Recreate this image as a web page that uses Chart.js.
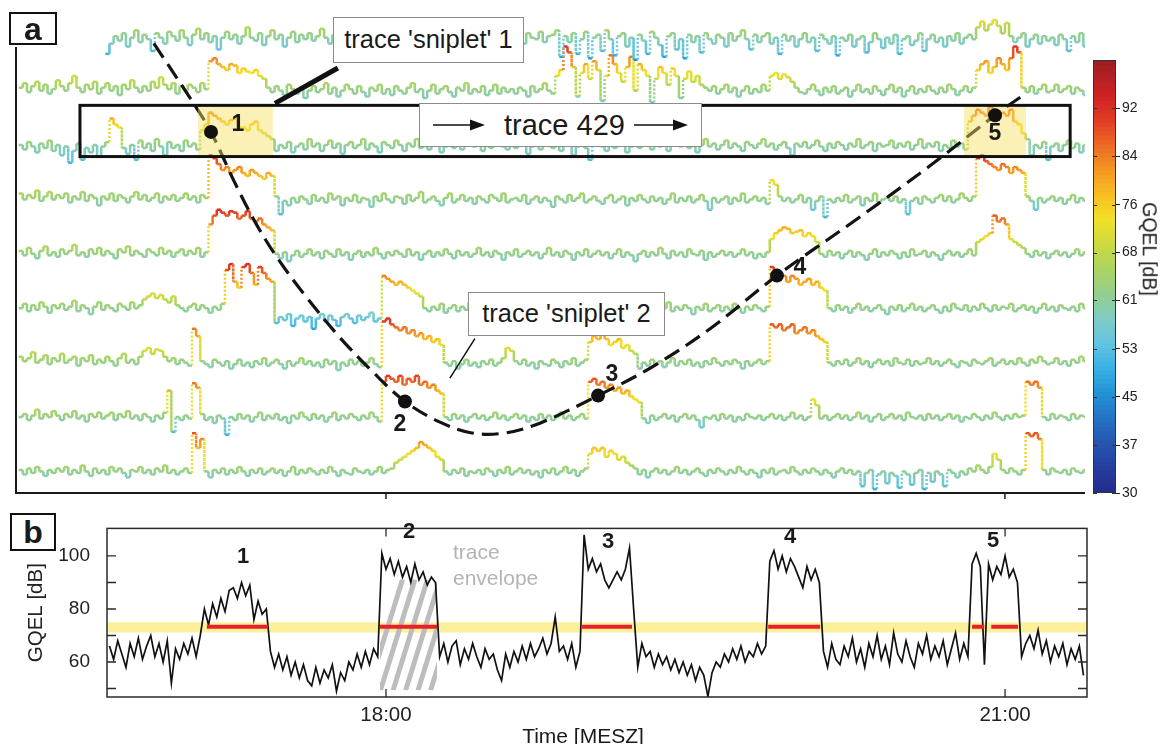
<!DOCTYPE html>
<html><head><meta charset="utf-8">
<script src="https://cdn.jsdelivr.net/npm/chart.js@4/dist/chart.umd.min.js"></script>
<style>
html,body{margin:0;padding:0;background:#fff;overflow:hidden;width:1161px;height:744px;}
body{position:relative;font-family:"Liberation Sans",Arial,sans-serif;color:#1a1a1a;}
canvas{position:absolute;}
.box{position:absolute;background:#fff;border:1px solid #8c8c8c;box-sizing:border-box;display:flex;align-items:center;justify-content:center;font-size:25.5px;color:#1a1a1a;line-height:1;white-space:nowrap;}
.panel{position:absolute;border:2px solid #111;background:#fff;box-sizing:border-box;font-weight:bold;font-size:32px;display:flex;align-items:center;justify-content:center;line-height:1;}
.num{position:absolute;font-weight:bold;transform:translate(-50%,-50%);line-height:1;white-space:nowrap;}
.txt{position:absolute;line-height:1;white-space:nowrap;}
</style></head><body>
<canvas id="ca" width="1161" height="500" style="left:0px;top:0px"></canvas>
<canvas id="cb" width="1161" height="260" style="left:0px;top:500px"></canvas>
<canvas id="cc" width="101" height="470" style="left:1060px;top:40px"></canvas>

<div class="panel" style="left:9px;top:12px;width:48px;height:33px;">a</div>
<div class="panel" style="left:10px;top:513px;width:46px;height:38px;">b</div>

<div class="box" style="left:333px;top:17px;width:191px;height:46px;">trace 'sniplet' 1</div>
<div class="box" style="left:468px;top:292px;width:197px;height:44px;">trace 'sniplet' 2</div>
<div class="box" style="left:419px;top:103px;width:283px;height:44px;font-size:29px;">
  <svg width="54" height="14" style="margin-right:18px"><line x1="1" y1="7" x2="40" y2="7" stroke="#111" stroke-width="1.3"/><polygon points="38,1.5 53,7 38,12.5" fill="#111"/></svg><span>trace 429</span><svg width="56" height="14" style="margin-left:8px"><line x1="1" y1="7" x2="42" y2="7" stroke="#111" stroke-width="1.3"/><polygon points="40,1.5 55,7 40,12.5" fill="#111"/></svg>
</div>

<div class="num" style="left:238px;top:123px;font-size:23px;">1</div>
<div class="num" style="left:400px;top:423px;font-size:23px;">2</div>
<div class="num" style="left:612px;top:373px;font-size:23px;">3</div>
<div class="num" style="left:800px;top:266px;font-size:23px;">4</div>
<div class="num" style="left:995px;top:132px;font-size:23px;">5</div>

<div class="num" style="left:243px;top:556px;font-size:22px;">1</div>
<div class="num" style="left:409px;top:531px;font-size:22px;">2</div>
<div class="num" style="left:608px;top:541px;font-size:22px;">3</div>
<div class="num" style="left:790px;top:536px;font-size:22px;">4</div>
<div class="num" style="left:993px;top:540px;font-size:22px;">5</div>

<div class="txt" style="left:453px;top:541px;font-size:21px;color:#b4b4b4;">trace</div>
<div class="txt" style="left:453px;top:567px;font-size:21px;color:#b4b4b4;">envelope</div>

<div class="txt" style="left:1149px;top:249px;font-size:19.5px;transform:translate(-50%,-50%) rotate(90deg);">GQEL [dB]</div>
<div class="txt" style="left:583px;top:735px;font-size:21px;transform:translate(-50%,-50%);">Time [MESZ]</div>

<script>
Chart.defaults.font.family = '"Liberation Sans", Arial, sans-serif';
Chart.defaults.color = '#1e1e1e';

// ---------------- data ----------------
const timeTicks = [18, 21];
const timeTickLabels = ['18:00', '21:00'];

// panel a: traces (GQEL in dB), one value every 0.02 h starting 16.22 h
const traceStart = 16.22, traceStep = 0.02;
const trace1 = [null,null,null,null,null,null,null,null,null,null, null,null,null,null,null,null,null,null,null,null,
null,50,57,62,59,64,55,61,66,58, 63,60,52,64,61,57,65,62,59,66, 61,56,63,67,60,64,58,62,53,61,
65,60,63,57,62,68,61,59,64,56, 62,66,60,63,55,61,65,58,63,60, 64,59,62,67,61,57,63,60,66,62,
58,63,55,61,64,60,66,59,62,54, 61,65,60,63,58,62,67,61,56,63, 60,64,62,57,65,61,59,63,66,60,
62,55,61,64,60,66,58,63,61,65, 59,62,57,64,61,60,65,58,62,63, 66,48,62,58,64,50,60,65,47,61,
63,52,66,60,49,62,64,55,61,46, 63,59,50,65,61,56,48,62,64,53, 60,47,63,58,62,51,64,60,57,63,
61,55,64,59,62,66,60,53,63,58, 62,64,57,61,50,63,59,62,55,60, 64,58,61,52,63,60,57,62,49,61,
59,63,55,60,62,51,58,64,60,54, 61,57,63,50,60,62,56,59,64,52, 60,63,58,61,55,62,59,64,57,61,
63,60,68,72,66,70,73,69,64,71, 62,58,61,64,55,60,63,57,62,59, 61,56,63,60,52,62,58,64,55,60];
const trace2 = [64,67,61,65,68,62,66,60,63,69, 65,62,67,72,64,61,66,63,68,60, 64,67,62,65,59,66,63,69,64,61,
65,62,68,64,71,66,63,67,60,65, 62,66,64,61,67,63,82,84,80,78, 76,80,79,74,77,75,74,76,72,70,
64,61,65,62,59,66,63,60,64,57, 62,65,61,63,67,60,64,58,62,66, 63,60,65,61,58,64,62,66,60,63,
59,65,62,60,64,67,61,63,57,62, 66,60,63,65,61,58,64,62,67,60, 63,61,65,59,62,66,60,64,61,63,
60,64,62,58,65,61,63,67,62,60, 72,76,92,88,78,58,74,80,70,82, 76,55,72,86,80,74,68,78,85,62,
80,76,72,54,70,78,74,66,77,72, 57,70,75,68,72,66,64,62,65,60, 63,66,61,64,58,62,65,60,63,61,
66,62,72,74,70,73,71,68,64,61, 60,63,66,62,59,64,61,65,60,62, 64,58,62,66,61,63,60,65,62,59,
63,66,61,64,58,62,65,60,63,61, 65,62,60,64,61,66,63,59,62,65, 61,64,76,80,82,74,78,84,80,76,
84,92,88,64,61,65,60,63,66,61, 62,66,61,63,65,60,64,62,59,63];
const trace3 = [62,59,64,61,57,63,60,65,58,62, 55,61,50,58,63,52,60,57,62,54, 61,64,80,76,74,60,56,62,52,65,
60,63,58,66,61,55,64,60,62,58, 65,61,63,59,72,76,84,82,80,78, 76,79,80,74,74,72,76,78,72,70,
68,66,58,62,60,64,57,61,63,59, 66,61,63,58,62,65,60,63,56,62, 64,60,62,66,59,63,61,57,64,62,
60,65,62,58,63,61,66,60,63,59, 62,64,57,61,65,60,63,59,62,66, 61,63,58,64,60,62,65,61,59,63,
60,64,62,56,61,63,59,65,62,60, 63,58,62,64,55,61,63,60,52,62, 65,61,58,63,60,64,62,57,61,63,
60,66,62,59,64,61,63,58,62,65, 61,63,60,64,57,62,66,61,63,59, 62,65,60,63,61,58,64,62,60,63,
66,61,63,59,62,64,60,55,63,61, 64,60,62,65,61,58,63,60,64,62, 59,63,61,66,60,62,64,58,63,61,
62,65,60,63,61,64,59,62,66,60, 63,61,64,58,62,60,65,61,63,59, 78,82,86,84,82,88,86,80,84,82,
86,78,76,70,66,55,62,60,64,52, 61,63,58,62,65,60,63,57,62,60];
const trace4 = [66,62,65,63,68,61,64,67,62,65, 63,66,60,64,62,67,61,65,63,58, 64,62,66,61,65,63,60,64,67,62,
65,61,63,66,60,64,62,65,61,63, 66,62,64,60,65,63,92,90,86,82, 84,80,82,84,80,78,82,80,78,76,
80,78,64,52,61,58,63,60,64,62, 59,65,61,63,60,66,62,64,58,63, 61,65,60,63,62,57,64,61,66,62,
60,64,63,59,65,61,63,67,60,62, 64,61,58,63,66,60,62,65,61,63, 59,64,62,60,65,63,61,66,60,62,
63,61,65,59,62,64,60,63,61,57, 64,62,60,65,61,63,66,60,62,64, 61,59,63,65,60,62,64,58,63,61,
65,62,60,64,61,63,59,62,66,60, 63,61,64,60,62,65,61,55,63,60, 62,64,59,63,61,66,60,62,64,61,
63,59,75,72,64,61,63,60,62,65, 60,63,55,61,64,50,62,60,63,61, 65,60,62,64,58,63,61,66,60,62,
63,61,64,60,62,52,61,63,59,64, 62,60,63,65,61,64,60,62,66,63, 61,64,90,92,88,86,84,82,86,84,
80,84,82,80,64,61,55,63,60,62, 64,61,63,59,62,65,60,63,61,62];
const trace5 = [64,61,66,62,59,64,67,61,63,60, 65,62,64,68,61,63,60,65,62,66, 61,64,62,59,65,63,67,61,64,62,
60,65,63,61,66,62,64,60,63,65, 61,64,62,66,60,63,82,88,92,90, 88,91,90,86,88,91,86,84,86,82,
80,78,62,59,63,57,61,64,60,62, 65,61,63,59,64,62,60,65,61,63, 58,62,64,60,63,61,66,62,59,63,
61,64,62,60,65,61,63,58,62,64, 60,63,61,65,62,59,64,61,63,60, 62,66,61,63,60,64,62,58,63,61,
65,60,62,64,61,63,59,62,66,61, 63,60,64,62,58,63,61,65,60,62, 64,61,63,59,62,65,60,63,61,57,
62,64,60,63,61,66,62,59,64,61, 63,60,65,62,61,64,58,63,60,62, 64,61,63,60,62,65,61,63,59,62,
60,63,72,76,78,80,79,76,77,78, 74,76,74,70,62,60,64,61,63,59, 62,64,60,63,61,58,62,65,60,63,
61,64,62,59,63,60,65,61,62,64, 60,63,61,58,62,64,61,63,60,62, 65,61,70,72,74,76,88,84,86,82,
72,70,68,66,62,60,64,61,63,59, 62,64,61,63,60,62,65,61,63,60];
const trace6 = [62,65,60,64,61,66,63,59,64,62, 65,61,63,67,60,64,62,58,63,66, 61,64,62,60,65,63,61,66,62,64,
68,70,72,69,71,68,66,70,64,62, 60,63,65,61,64,62,59,63,61,65, 88,92,80,76,90,92,86,78,90,86,
82,80,52,56,54,58,50,55,57,53, 56,48,55,58,53,57,54,50,56,58, 55,52,57,54,56,59,53,55,84,82,
80,78,80,78,76,74,72,70,62,60, 63,61,65,59,62,64,60,63,61,66, 62,60,64,61,63,58,62,65,60,63,
61,64,62,59,63,66,60,62,64,61, 63,60,65,62,58,63,61,64,60,62, 65,61,63,60,62,64,59,63,61,65,
62,60,64,61,63,59,62,66,60,63, 61,64,62,58,63,61,65,60,62,64, 60,63,61,65,62,59,63,61,64,62,
60,63,90,88,86,84,80,84,82,78, 80,82,78,80,76,74,62,60,64,61, 63,59,62,65,61,63,60,62,64,61,
58,63,61,64,60,62,65,61,63,60, 62,64,61,59,63,60,65,62,61,64, 60,63,61,65,62,60,64,61,63,62,
65,60,62,64,61,63,59,62,65,61, 63,60,64,62,61,63,60,65,62,61];
const trace7 = [66,63,65,69,62,64,67,61,65,63, 68,62,64,66,60,65,63,67,61,64, 62,66,63,60,65,68,62,64,61,66,
70,72,68,71,70,66,63,65,61,64, 62,60,85,80,63,61,59,64,62,60, 63,58,61,64,60,62,59,63,61,65,
60,62,64,61,58,63,60,62,65,61, 63,60,62,59,64,61,63,57,62,60, 64,61,63,60,62,65,61,59,90,92,
88,86,84,86,82,84,80,82,78,80, 76,78,74,62,60,63,58,61,64,60, 62,59,63,61,64,60,62,65,72,70,
63,61,64,60,62,58,63,61,60,64, 62,59,63,61,65,60,62,64,76,80, 78,82,78,74,76,78,72,74,70,68,
58,62,60,64,61,63,59,62,65,60, 63,61,64,60,62,59,63,61,65,62, 60,63,61,64,62,58,63,60,62,64,
61,63,88,86,88,84,86,88,82,84, 86,82,84,80,78,76,62,60,63,61, 64,60,62,65,61,63,59,62,64,61,
63,60,65,62,61,64,60,63,61,62, 65,61,63,60,62,64,61,59,63,62, 60,64,62,61,63,65,60,62,64,61,
63,61,65,62,60,64,62,66,63,61, 62,65,61,63,60,64,62,66,63,61];
const trace8 = [62,64,60,63,67,61,64,62,66,63, 60,64,62,66,61,63,59,64,62,65, 61,63,65,60,64,62,66,61,63,60,
64,62,59,63,61,65,80,52,62,60, 63,61,85,82,64,60,62,58,63,61, 50,62,60,64,61,63,59,62,65,60,
63,61,64,60,62,58,63,61,65,62, 60,64,61,63,59,62,65,60,63,61, 64,62,60,63,61,65,62,59,86,90,
88,86,90,84,88,86,90,84,86,82, 84,80,78,62,60,64,61,63,59,62, 64,61,63,60,62,65,61,63,60,62,
64,61,63,59,62,60,64,61,63,60, 62,65,61,63,60,62,64,61,86,88, 84,86,82,84,80,82,78,80,76,74,
72,61,58,63,60,62,64,61,63,59, 62,64,61,63,60,55,62,61,63,60, 64,61,63,59,62,60,64,62,61,63,
60,62,64,61,63,60,62,65,61,63, 60,62,74,70,61,63,60,62,64,61, 63,60,62,65,61,63,59,62,64,60,
62,64,61,63,60,65,62,61,63,60, 64,61,63,60,62,64,61,63,59,62, 61,64,62,60,63,61,65,62,60,63,
61,64,62,63,86,84,86,82,62,60, 64,61,63,62,60,64,61,63,62,60];
const trace9 = [63,60,64,61,65,62,59,63,61,64, 62,65,60,63,61,66,62,59,64,61, 63,60,65,62,64,61,58,63,62,65,
61,63,60,64,62,66,61,63,60,62, 64,61,88,78,84,62,58,63,61,64, 60,63,61,65,62,59,63,61,64,60,
62,64,61,63,59,62,65,60,63,61, 64,62,60,63,61,65,62,59,63,61, 60,64,62,61,63,60,62,65,61,63,
64,68,70,72,74,76,78,82,80,78, 76,72,70,62,60,63,61,64,59,62, 61,63,60,64,62,59,63,61,65,60,
62,64,61,63,60,62,58,63,61,64, 60,62,65,61,63,59,62,64,74,78, 76,78,72,76,74,70,72,68,66,64,
60,63,58,62,64,61,63,60,62,65, 61,63,60,62,64,61,59,63,61,64, 62,60,63,61,65,62,60,63,61,58,
63,61,64,60,62,63,61,65,62,60, 63,61,64,62,60,63,61,58,62,64, 61,63,60,62,52,61,63,50,60,62,
54,61,59,51,62,60,53,61,63,50, 61,55,62,60,52,63,61,58,62,60, 64,62,66,63,61,65,74,70,63,61,
64,62,60,63,88,86,88,84,63,60, 64,62,61,63,60,64,62,61,63,62];

// path of the moving source across the traces (time in h, trace row)
const curveTime = [16.875,17.074,17.152,17.273,17.375,17.477,17.607,17.777,17.932,18.092,18.262,18.417,18.577,18.746,19.028,19.289,19.571,19.895,20.273,20.627,20.952,21.093];
const curveRow  = [1.132,2.271,2.759,3.736,4.477,5.092,5.761,6.539,7.154,7.714,8.094,8.293,8.293,8.112,7.606,7.081,6.376,5.400,4.387,3.410,2.452,2.072];
const eventTime = [17.152, 18.092, 19.028, 19.895, 20.952];
const eventRow  = [2.759, 7.714, 7.606, 5.400, 2.452];

// panel b: level of trace 429, one value every 0.02 h starting 16.66 h
const levelStart = 16.66, levelStep = 0.02;
const levelB = [66,61,68,63,58,67,62,69,61,66, 70,62,67,60,68,52,65,61,67,63, 69,62,70,
80,74,82,77,84,79,87, 88,84,90,85,89,76,83,78,80,
64,58,63,57,62,55,60,54,59,53,51, 58,52,57,54,59,49,56,53,60, 57,63,58,64,59,65,62,
101,95,99,93,98,92,96,90,97,91,94,89,92,90,
62,67,60,66,68,59,65,61,67,62, 58,65,61,63,57,53,63,58,64,60, 66,61,67,62,65,69,63,67,77,64,
66,61,67,58,64,
108,95,99,94,97,91,88,91,94,91,95,103, 80, 58,
67,62,64,58,63,59,62,57,61,56,60, 55,59,53,58,55,47,56,60,
58,63,60,65,61,66,60,64,62,67,63,66,
98,102,95,100,94,99,96,92,88,96,91,95,90,
64,58,67,61,59,66,62,69,60,65,58,67,62,70,61,66,59,71,63,60,68,62,58,67,63,70,61,66,62,68,59,65,71,61,67,62,
97,101,96,59,97,91,96,93,100,92,95,90,62,
67,70,65,72,63,68,60,66,62,67,59,65,61,66,55];
const sniStart = [17.132, 17.971, 18.950, 19.852, 20.840, 20.933];
const sniEnd   = [17.428, 18.247, 19.192, 20.104, 20.899, 21.063];
const yTicksB = [50, 60, 70, 80, 90, 100];
const yTickLabelsB = ['', '60', '', '80', '', '100'];

// colour bar
const cbMin = 30, cbMax = 99.7;
const cbTicks = [30, 37.7, 45.5, 53.2, 61, 68.7, 76.4, 84.2, 91.9];
const cbTickLabels = ['30','37','45','53','61','68','76','84','92'];

// ---------------- helpers / layout constants ----------------
const cmapStops = [
 [30,[37,44,140]],[34,[38,62,160]],[38,[38,86,176]],[42,[36,116,196]],[46,[34,148,214]],
 [50,[56,178,228]],[54,[100,196,226]],[58,[128,204,196]],[62,[148,206,140]],[66,[172,212,96]],
 [70,[206,219,62]],[74,[242,224,40]],[78,[248,190,32]],[82,[243,150,34]],[86,[236,104,36]],
 [90,[226,58,38]],[94,[204,34,38]],[100,[152,28,34]]];
function cmap(v){
  if (v <= cmapStops[0][0]) return 'rgb(' + cmapStops[0][1].join(',') + ')';
  for (let k = 1; k < cmapStops.length; k++){
    if (v <= cmapStops[k][0]){
      const a = cmapStops[k-1], b = cmapStops[k], f = (v - a[0]) / (b[0] - a[0]);
      const c = a[1].map((q, j) => Math.round(q + (b[1][j] - q) * f));
      return 'rgb(' + c.join(',') + ')';
    }
  }
  return 'rgb(' + cmapStops[cmapStops.length-1][1].join(',') + ')';
}
const dBPerRow = 37, refLevel = 62;
const box429 = {t0: 16.517, t1: 21.316, r0: 2.271, r1: 3.212};
const highlightSpans = [[17.089, 17.452], [20.802, 21.102]];
const callout1 = [[17.462, 2.235], [17.767, 1.584]];
const callout2 = [[18.310, 7.283], [18.431, 6.560]];

// ---------------- panel a ----------------
const traces = [trace1, trace2, trace3, trace4, trace5, trace6, trace7, trace8, trace9];
const traceDatasets = traces.map((vals, k) => {
  const row = k + 1, pts = [], vv = [];
  vals.forEach((v, i) => {
    const xa = traceStart + i * traceStep;
    if (v === null) { pts.push({x: xa, y: null}); vv.push(null); return; }
    const y = row - (v - refLevel) / dBPerRow;
    pts.push({x: xa, y: y}, {x: xa + traceStep, y: y});
    vv.push(v, v);
  });
  return {
    data: pts, borderWidth: 2.5, pointRadius: 0, order: 2, spanGaps: false,
    borderColor: '#90cc88', borderJoinStyle: 'miter', borderCapStyle: 'butt', tension: 0,
    clip: {left: 0, right: 0, top: 60, bottom: 20},
    segment: {
      borderColor: c => { const a = vv[c.p0DataIndex], b = vv[c.p1DataIndex]; return cmap((a + b) / 2); },
      borderDash: c => Math.abs(vv[c.p0DataIndex] - vv[c.p1DataIndex]) >= 10 ? [2, 2] : undefined
    }
  };
});
const curveIndex = traceDatasets.length;
const curveDs = {
  data: curveTime.map((t, i) => ({x: t, y: curveRow[i]})),
  borderColor: '#141414', borderWidth: 3.2, borderDash: [17, 8], pointRadius: 0,
  tension: 0.35, order: 1, clip: false
};
const dotDs = {
  data: eventTime.map((t, i) => ({x: t, y: eventRow[i]})),
  showLine: false, pointRadius: 7, pointBackgroundColor: '#111', pointBorderWidth: 0, order: 0, clip: false
};

const annotA = {
  id: 'annotA',
  afterDatasetDraw(chart, args) {
    if (args.index !== curveIndex) return;
    const {ctx, scales: {x, y}} = chart;
    ctx.save();
    const yt = y.getPixelForValue(box429.r0), yb = y.getPixelForValue(box429.r1);
    ctx.fillStyle = 'rgba(247,222,90,0.45)';
    highlightSpans.forEach(([a, b]) => {
      const x0 = x.getPixelForValue(a), x1 = x.getPixelForValue(b);
      ctx.fillRect(x0, yt, x1 - x0, yb - yt);
    });
    ctx.strokeStyle = '#111'; ctx.lineWidth = 3;
    const bx0 = x.getPixelForValue(box429.t0), bx1 = x.getPixelForValue(box429.t1);
    ctx.strokeRect(bx0, yt, bx1 - bx0, yb - yt);
    ctx.lineWidth = 5; ctx.lineCap = 'butt';
    ctx.beginPath();
    ctx.moveTo(x.getPixelForValue(callout1[0][0]), y.getPixelForValue(callout1[0][1]));
    ctx.lineTo(x.getPixelForValue(callout1[1][0]), y.getPixelForValue(callout1[1][1]));
    ctx.stroke();
    ctx.lineWidth = 1.5;
    ctx.beginPath();
    ctx.moveTo(x.getPixelForValue(callout2[0][0]), y.getPixelForValue(callout2[0][1]));
    ctx.lineTo(x.getPixelForValue(callout2[1][0]), y.getPixelForValue(callout2[1][1]));
    ctx.stroke();
    ctx.restore();
  },
  afterDraw(chart) {
    const {ctx, chartArea: ca, scales: {x}} = chart;
    ctx.save();
    ctx.strokeStyle = '#1a1a1a'; ctx.lineWidth = 2;
    ctx.beginPath();
    ctx.moveTo(ca.left, 47); ctx.lineTo(ca.left, ca.bottom); ctx.lineTo(ca.right, ca.bottom);
    ctx.stroke();
    ctx.lineWidth = 1.5;
    ctx.beginPath();
    timeTicks.forEach(t => { const px = x.getPixelForValue(t); ctx.moveTo(px, ca.bottom); ctx.lineTo(px, ca.bottom + 6); });
    ctx.stroke();
    ctx.restore();
  }
};

new Chart(document.getElementById('ca'), {
  type: 'line',
  data: {datasets: [...traceDatasets, curveDs, dotDs]},
  options: {
    responsive: false, animation: false, devicePixelRatio: 1, events: [],
    layout: {padding: {left: 16, right: 76, top: 0, bottom: 6}},
    plugins: {legend: {display: false}, tooltip: {enabled: false}},
    scales: {
      x: {type: 'linear', min: 16.207, max: 21.388, display: false},
      y: {type: 'linear', min: 0.463, max: 9.396, reverse: true, display: false}
    }
  },
  plugins: [annotA]
});

// ---------------- panel b ----------------
const xMinB = 16.648, xMaxB = 21.397;
const bandLow = 71.1, bandHigh = 75.0, sniLevel = 73.3;
const hatchRect = {t0: 17.971, t1: 18.247, lo: 49.3, hi: 91.1};
const hatchStarts = [17.913, 17.973, 18.034, 18.095, 18.155, 18.216];
const hatchLean = 0.167;

const redPts = [];
sniStart.forEach((s, i) => { redPts.push({x: s, y: sniLevel}, {x: sniEnd[i], y: sniLevel}, {x: sniEnd[i] + 0.001, y: null}); });

const redDs = {data: redPts, borderColor: '#e8202a', borderWidth: 4, pointRadius: 0, order: 0, spanGaps: false, borderCapStyle: 'butt'};
const lineDs = {data: levelB.map((v, i) => ({x: levelStart + i * levelStep, y: v})), borderColor: '#111', borderWidth: 1.7, pointRadius: 0, order: 1, tension: 0, borderJoinStyle: 'miter'};
const bandDs = {data: [{x: xMinB, y: bandHigh}, {x: xMaxB, y: bandHigh}], fill: {value: bandLow}, backgroundColor: '#fcf09b', borderColor: 'rgba(0,0,0,0)', borderWidth: 0, pointRadius: 0, order: 2};

const frameB = {
  id: 'frameB',
  beforeDatasetDraw(chart, args) {
    if (args.index !== 1) return;
    const {ctx, scales: {x, y}} = chart;
    ctx.save();
    const L = x.getPixelForValue(hatchRect.t0), R = x.getPixelForValue(hatchRect.t1);
    const T = y.getPixelForValue(hatchRect.hi), B = y.getPixelForValue(hatchRect.lo);
    ctx.beginPath(); ctx.rect(L, T, R - L, B - T); ctx.clip();
    ctx.strokeStyle = '#bdbdbd'; ctx.lineWidth = 5; ctx.lineCap = 'butt';
    hatchStarts.forEach(t => {
      ctx.beginPath();
      ctx.moveTo(x.getPixelForValue(t), B);
      ctx.lineTo(x.getPixelForValue(t + hatchLean), T);
      ctx.stroke();
    });
    ctx.restore();
  },
  afterDraw(chart) {
    const {ctx, chartArea: ca, scales: {x, y}} = chart;
    ctx.save();
    ctx.strokeStyle = '#2a2a2a'; ctx.lineWidth = 1.5;
    ctx.strokeRect(ca.left, ca.top, ca.right - ca.left, ca.bottom - ca.top);
    ctx.lineWidth = 1.3;
    ctx.beginPath();
    yTicksB.forEach(v => {
      const py = y.getPixelForValue(v);
      ctx.moveTo(ca.left, py); ctx.lineTo(ca.left + 9, py);
      ctx.moveTo(ca.right, py); ctx.lineTo(ca.right - 9, py);
    });
    timeTicks.forEach(t => {
      const px = x.getPixelForValue(t);
      ctx.moveTo(px, ca.bottom); ctx.lineTo(px, ca.bottom - 8);
      ctx.moveTo(px, ca.top); ctx.lineTo(px, ca.top + 8);
    });
    ctx.stroke();
    ctx.restore();
  }
};

new Chart(document.getElementById('cb'), {
  type: 'line',
  data: {datasets: [redDs, lineDs, bandDs]},
  options: {
    responsive: false, animation: false, devicePixelRatio: 1, events: [],
    layout: {padding: {left: 0, right: 74, top: 19, bottom: 0}},
    plugins: {legend: {display: false}, tooltip: {enabled: false}},
    scales: {
      x: {
        type: 'linear', min: xMinB, max: xMaxB,
        afterBuildTicks: s => { s.ticks = timeTicks.map(v => ({value: v})); },
        ticks: {callback: (v, i) => timeTickLabels[i], font: {size: 20.5}, color: '#222', padding: 6, maxRotation: 0, autoSkip: false},
        grid: {display: false, drawTicks: false}, border: {display: false},
        afterFit: s => { s.height = 63; }
      },
      y: {
        type: 'linear', min: 46.8, max: 110.4,
        afterBuildTicks: s => { s.ticks = yTicksB.map(v => ({value: v})); },
        ticks: {callback: (v, i) => yTickLabelsB[i], font: {size: 19}, color: '#222', padding: 17, autoSkip: false},
        grid: {display: false, drawTicks: false}, border: {display: false},
        title: {display: true, text: 'GQEL [dB]', font: {size: 20.5}, color: '#222', padding: {top: 24, bottom: 0}},
        afterFit: s => { s.width = 107; }
      }
    }
  },
  plugins: [frameB]
});

// ---------------- colour bar ----------------
const cbDatasets = [];
const cbStep = 0.7;
for (let lo = cbMin; lo < cbMax - 1e-9; lo += cbStep) {
  const hi = Math.min(lo + cbStep, cbMax);
  cbDatasets.push({data: [[lo, hi + 0.08]], backgroundColor: cmap((lo + hi) / 2), borderWidth: 0, barPercentage: 1, categoryPercentage: 1, grouped: false});
}
const frameC = {
  id: 'frameC',
  afterDraw(chart) {
    const {ctx, chartArea: ca, scales: {y}} = chart;
    ctx.save();
    ctx.strokeStyle = '#333'; ctx.lineWidth = 1;
    ctx.strokeRect(ca.left + 0.5, ca.top + 0.5, ca.right - ca.left - 1, ca.bottom - ca.top - 1);
    ctx.beginPath();
    cbTicks.forEach(v => {
      const py = Math.round(y.getPixelForValue(v)) + 0.5;
      ctx.moveTo(ca.left, py); ctx.lineTo(ca.left + 4, py);
      ctx.moveTo(ca.right, py); ctx.lineTo(ca.right - 4, py);
    });
    ctx.stroke();
    ctx.restore();
  }
};
new Chart(document.getElementById('cc'), {
  type: 'bar',
  data: {labels: [''], datasets: cbDatasets},
  options: {
    responsive: false, animation: false, devicePixelRatio: 1, events: [],
    layout: {padding: {left: 33, right: 0, top: 20, bottom: 17}},
    plugins: {legend: {display: false}, tooltip: {enabled: false}},
    scales: {
      x: {display: false},
      y: {
        position: 'right', min: cbMin, max: cbMax,
        afterBuildTicks: s => { s.ticks = cbTicks.map(v => ({value: v})); },
        ticks: {callback: (v, i) => cbTickLabels[i], font: {size: 14, family: '"Liberation Sans Narrow", "Liberation Sans", Arial, sans-serif'}, color: '#222', padding: 2, autoSkip: false},
        grid: {drawOnChartArea: false, drawTicks: true, tickLength: 4, color: '#222'},
        border: {display: false},
        afterFit: s => { s.width = 45; }
      }
    }
  },
  plugins: [frameC]
});
</script>
</body></html>
